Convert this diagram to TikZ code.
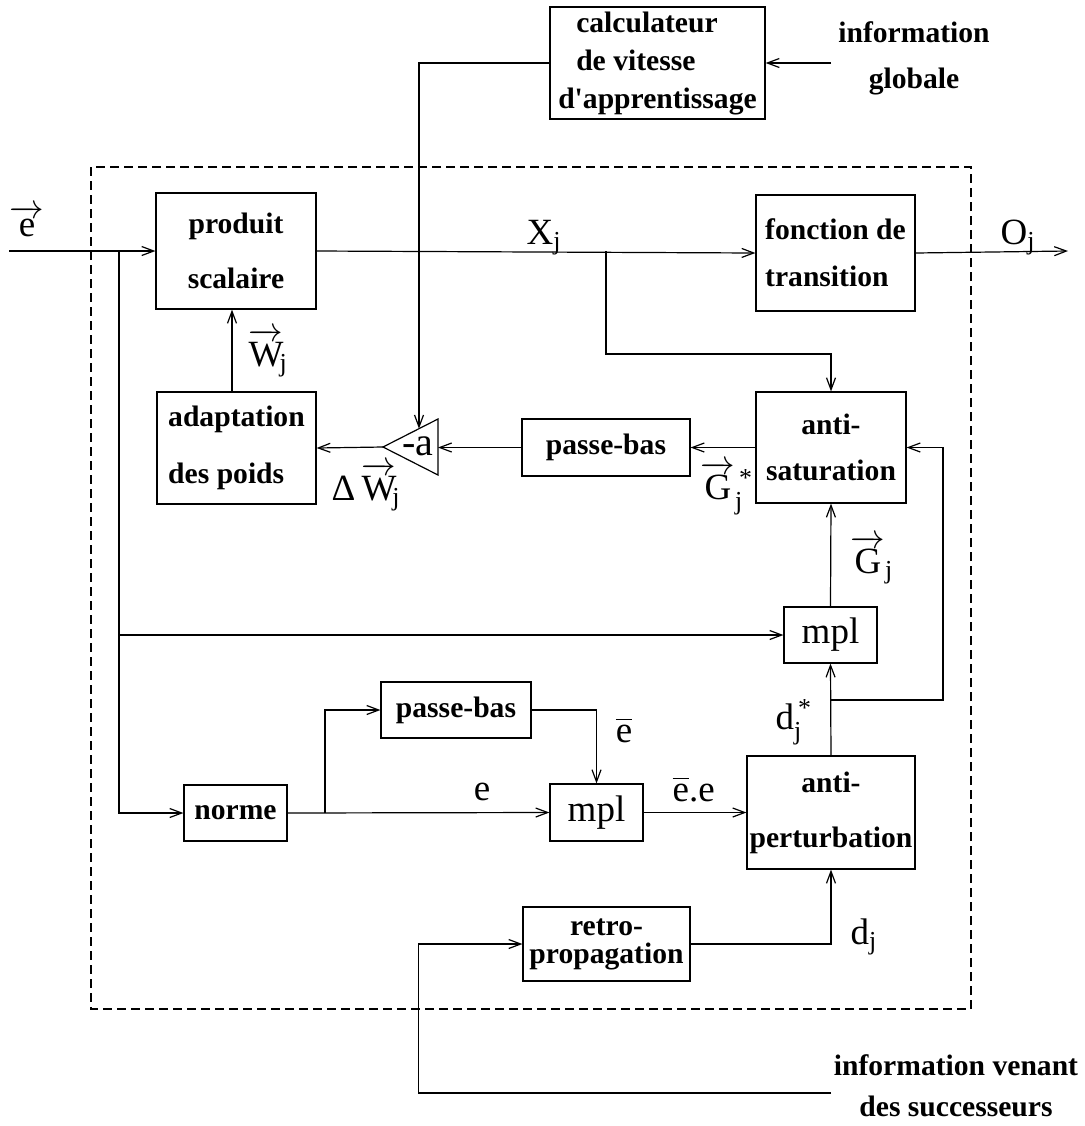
\documentclass[tikz,border=0pt]{standalone}
\usepackage{amsmath}
\usepackage{fontspec}
\setmainfont{Liberation Serif}
\usetikzlibrary{arrows.meta,calc}
\tikzset{>={Straight Barb[length=6pt,width=4.5pt]}}
\newcommand{\boxfont}{\fontsize{14.8}{17.5}\selectfont\bfseries}
\newcommand{\labfont}{\fontsize{18.5}{22}\selectfont}
\tikzset{
  bloc/.style={draw, inner sep=0pt, font=\boxfont, align=center},
  lab/.style={inner sep=0pt, font=\labfont},
  info/.style={inner sep=0pt, font=\boxfont, align=center},
}

\begin{document}
\begin{tikzpicture}[x=0.5pt, y=-0.5pt, line width=0.6pt]
	\useasboundingbox (0,0) rectangle (1085,1126);
	
	% Neuron frame
	\draw[line width=1pt, dash pattern=on 4.5pt off 2.5pt] (91,167) rectangle (971,1009);
	
	% Boxes
	\node[bloc, minimum width=107.5pt, minimum height=56pt, align=left] (calc) at (657.5,63) {\hspace*{9pt}calculateur\\[1.5pt]\hspace*{9pt}de vitesse\\[1.5pt]d\textquotesingle apprentissage};
	\node[bloc, minimum width=80pt, minimum height=58pt] (prod) at (236,251) {produit\\[10pt]scalaire};
	\node[bloc, minimum width=79.5pt, minimum height=58pt, align=left] (fonc) at (835.5,253) {fonction de\\[6pt]transition};
	\node[bloc, minimum width=79.5pt, minimum height=56pt, align=left] (adapt) at (236.5,448) {adaptation\\[11pt]des poids};
	\node[bloc, minimum width=84pt, minimum height=28.5pt] (pbh) at (606,447.5) {passe-bas};
	\node[bloc, minimum width=75pt, minimum height=55.5pt] (antisat) at (831,447.5) {anti-\\[5.5pt]saturation};
	\node[bloc, minimum width=46.5pt, minimum height=28pt, font=\labfont] (mplh) at (830.5,635) {mpl};
	\node[bloc, minimum width=75pt, minimum height=28pt] (pbb) at (456,710) {passe-bas};
	\node[bloc, minimum width=51.5pt, minimum height=28pt] (norme) at (235.5,813) {norme};
	\node[bloc, minimum width=46.5pt, minimum height=28.5pt, font=\labfont] (mplb) at (596.5,812.5) {mpl};
	\node[bloc, minimum width=84pt, minimum height=56.5pt] (antipert) at (831,812.5) {anti-\\[10pt]perturbation};
	\node[bloc, minimum width=83.5pt, minimum height=37pt] (retro) at (606.5,944) {retro-\\[-3.5pt]propagation};
	
	% Gain -a
	\coordinate (ta) at (383,447);
	\coordinate (tb) at (438,419);
	\coordinate (tc) at (438,475);
	\draw (ta) -- (tb) -- (tc) -- cycle;
	\node[lab, font=\fontsize{20}{22}\selectfont] (gain) at (418,446) {-a};
	
	% Free ends
	\coordinate (ein) at (9,251);
	\coordinate (oout) at (1068,251);
	\coordinate (gin) at (831,63);
	\coordinate (sin) at (831,1093);
	\coordinate (br1) at (119,251);
	\coordinate (br3) at (606,251);
	\coordinate (br4) at (831,700);
	\coordinate (br5) at (325,813);
	
	% Connectors
	\draw[->] (ein) -- (prod.west);
	\draw[->] (prod.east) -- (fonc.west);
	\draw[->] (fonc.east) -- (oout);
	\draw[->] (br1) |- (norme.west);
	\draw[->] (br1 |- mplh.west) -- (mplh.west);
	\draw[->] (br3) -- ++(0,103) -| (antisat.north);
	\draw[->] (gin) -- (calc.east);
	\draw[->] (calc.west) -| ($(tb)!0.345!(ta)$);
	\draw[->] (adapt.north -| 232,0) -- (prod.south -| 232,0);
	\draw[->] (antisat.west) -- (pbh.east);
	\draw[->] (pbh.west) -- (tb |- pbh.west);
	\draw[->] (ta) -- (adapt.east);
	\draw[->] (mplh.north) -- (antisat.south);
	\draw[->] (antipert.north) -- (mplh.south);
	\draw[->] (br4) -- ++(112,0) |- (antisat.east);
	\draw[->] (norme.east) -- (mplb.west);
	\draw[->] (br5) |- (pbb.west);
	\draw[->] (pbb.east) -| (mplb.north);
	\draw[->] (mplb.east) -- (antipert.west);
	\draw[->] (retro.east) -| (antipert.south);
	\draw[->] (sin) -| ($(retro.west)+(-104,0)$) -- (retro.west);
	
	% Labels
	\node[lab, anchor=base] (lbe) at (27,236) {$\overrightarrow{\text{e}}$};
	\node[lab, anchor=base west] (lxj) at (526,244) {X$_{\text{j}}$};
	\node[lab, anchor=base west] (loj) at (1000,244) {O$_{\text{j}}$};
	\node[lab, anchor=base west] (lwj) at (248,366) {$\overrightarrow{\text{W}}_{\!\text{j}}$};
	\node[lab, anchor=base west] (ldw) at (331,500) {Δ\,$\overrightarrow{\text{W}}_{\!\text{j}}$};
	\node[lab, anchor=base west] (lgs) at (700,499) {$\overrightarrow{\text{G}}_{\text{j}}^{\,\text{*}}$};
	\node[lab, anchor=base west] (lg) at (850,573) {$\overrightarrow{\text{G}}_{\text{j}}$};
	\node[lab, anchor=base west] (lds) at (775,729) {d$_{\text{j}}^{\,\text{*}}$};
	\node[lab, anchor=base] (lebar) at (624,742) {$\overline{\text{e}}$};
	\node[lab, anchor=base] (le) at (482,800) {e};
	\node[lab, anchor=base west] (lee) at (672,801) {$\overline{\text{e}}$.e};
	\node[lab, anchor=base west] (ldj) at (850,944) {d$_{\text{j}}$};
	\node[info] (lig) at (914,58) {information\\[5.5pt]globale};
	\node[info] (lis) at (956,1086) {information venant\\[3pt]des successeurs};
\end{tikzpicture}
\end{document}
